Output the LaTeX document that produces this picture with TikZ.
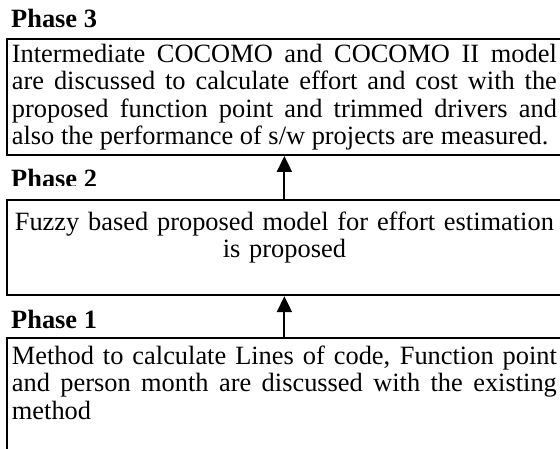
\documentclass[tikz,border=0pt]{standalone}
\usepackage{fontspec}
\setmainfont{Liberation Serif}
\usetikzlibrary{arrows.meta}
\tolerance=9999
\hbadness=10000

\begin{document}
\begin{tikzpicture}[x=1pt, y=-1pt,
  phasebox/.style={draw, line width=1.8pt, fill=white, anchor=north west, inner xsep=5pt, text width=545pt, font=\fontsize{26.4}{27.4}\selectfont},
  phaselabel/.style={anchor=base west, inner sep=0pt, font=\fontsize{26.4}{27.4}\selectfont\bfseries},
  uparrow/.style={-{Triangle[width=15pt,length=16pt]}, line width=2pt}]
\useasboundingbox (0,0) rectangle (560,449);
\clip (0,0) rectangle (560,449);
\fill[white] (0,0) rectangle (560,449);

% Phase labels
\node[phaselabel] (labthree) at (11,28) {Phase 3};
\begin{scope}
  \clip (0,160) rectangle (200,186);
  \node[phaselabel] (labtwo) at (11,188) {Phase 2};
\end{scope}
\node[phaselabel] (labone) at (11,328) {Phase 1};

% Phase boxes
\node[phasebox, align=justify, inner ysep=5pt] (phasethree) at (6,38)
  {Intermediate COCOMO and COCOMO II model\linebreak
   are discussed to calculate effort and cost with the\linebreak
   proposed function point and trimmed drivers and\linebreak
   also the performance of s/w projects are measured.};

\node[phasebox, align=center, inner ysep=12pt] (phasetwo) at (6,199)
  {Fuzzy based proposed model for effort estimation\\
   is proposed\\[-2pt]\mbox{}};

\node[phasebox, align=justify, inner ysep=8pt] (phaseone) at (6,337)
  {Method to calculate Lines of code, Function point\linebreak
   and person month are discussed with the existing\linebreak
   method\\ \mbox{}};

% Arrows
\draw[uparrow] (phaseone) -- (phasetwo);
\draw[uparrow] (phasetwo) -- (phasethree);

\end{tikzpicture}
\end{document}
